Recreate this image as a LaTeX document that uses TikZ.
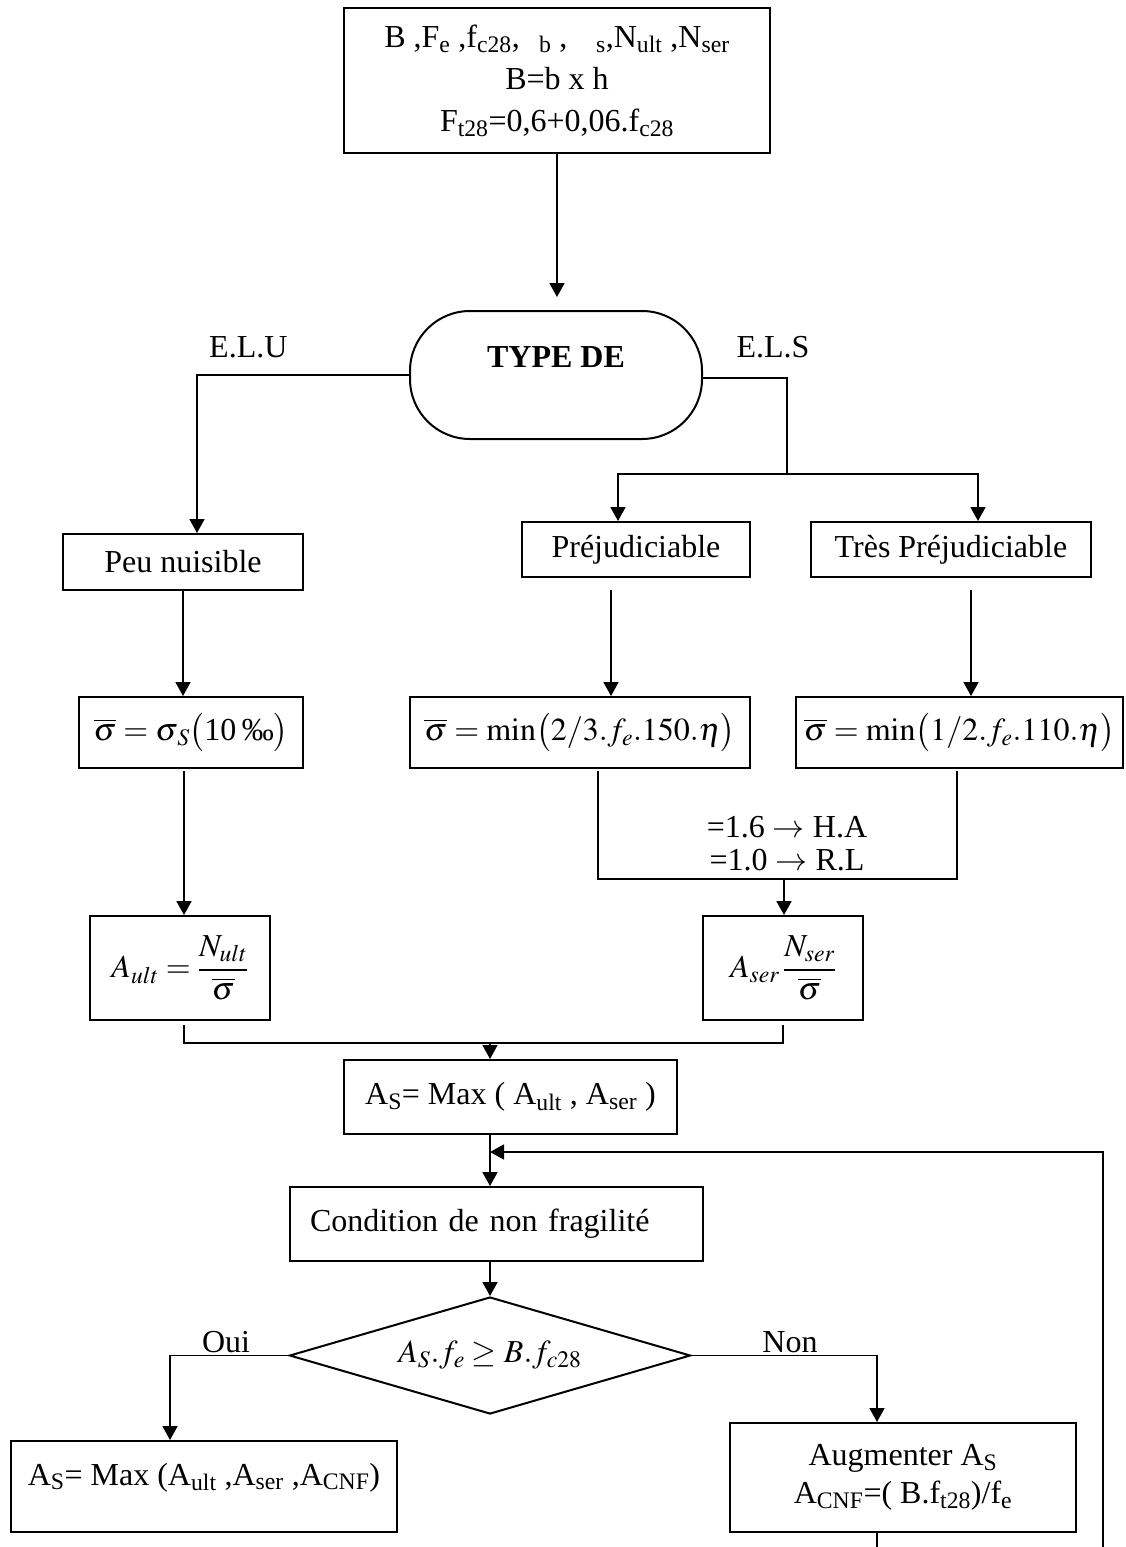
\documentclass[tikz,border=0pt]{standalone}
\usepackage{amsmath}
\usepackage{mathptmx}
\usepackage[no-math]{fontspec}
\setmainfont{Liberation Serif}
\usetikzlibrary{arrows.meta,shapes.geometric}
\tikzset{
  box/.style={draw, line width=2pt, inner sep=0pt, align=center},
  link/.style={line width=1.7pt},
  arr/.style={link, -{Triangle[length=14pt,width=15pt]}},
  tag/.style={inner sep=0pt},
}
\begin{document}
\begin{tikzpicture}[x=1pt,y=-1pt,font=\fontsize{32}{40}\selectfont]
  \useasboundingbox (0,0) rectangle (1125,1547);
  % boxes
  \node[box, minimum width=426pt, minimum height=145pt] (data) at (557,80.5)
    {B\ ,F\textsubscript{e}\ ,f\textsubscript{c28},\hspace{0.6em}\textsubscript{b}\ ,\hspace{0.9em}\textsubscript{s},N\textsubscript{ult}\ ,N\textsubscript{ser}\\[2pt]
     B=b x h\\[2pt]
     F\textsubscript{t28}=0,6+0,06.f\textsubscript{c28}};
  \node[box, rounded corners=60pt, minimum width=292pt, minimum height=128pt, text depth=36pt] (type) at (556,375) {\textbf{TYPE DE}};
  \node[tag, anchor=west] (elu) at (209,347) {E.L.U};
  \node[tag] (els) at (773,347) {E.L.S};
  \node[box, minimum width=240pt, minimum height=56pt] (peu) at (183,562) {Peu nuisible};
  \node[box, minimum width=228pt, minimum height=55pt] (prej) at (636,549.5) {Préjudiciable};
  \node[box, minimum width=280pt, minimum height=55pt] (tres) at (951,549.5) {Très Préjudiciable};
  \node[box, minimum width=224pt, minimum height=71pt] (sig1) at (191,732.5) {$\overline{\sigma}=\sigma_{\,S}\bigl(\text{10\,‰}\bigr)$};
  \node[box, minimum width=340pt, minimum height=71pt] (sig2) at (580,732.5) {$\overline{\sigma}=\min\bigl(2/3.f_e.150.\eta\bigr)$};
  \node[box, minimum width=327pt, minimum height=71pt] (sig3) at (959.5,732.5) {$\overline{\sigma}=\min\bigl(1/2.f_e.110.\eta\bigr)$};
  \node[tag] (ha) at (787,827) {=1.6 $\rightarrow$ H.A};
  \node[tag] (rl) at (787,860) {=1.0 $\rightarrow$ R.L};
  \node[box, minimum width=180pt, minimum height=104pt] (ault) at (180,968) {$A_{ult}=\dfrac{N_{ult}}{\overline{\sigma}}$};
  \node[box, minimum width=160pt, minimum height=104pt] (aser) at (783,968) {$A_{ser}\,\dfrac{N_{ser}}{\overline{\sigma}}$};
  \node[box, minimum width=333pt, minimum height=74pt] (asmax) at (510.5,1097) {A\textsubscript{S}= Max ( A\textsubscript{ult} , A\textsubscript{ser} )};
  \node[box, minimum width=413pt, minimum height=74pt, text width=373pt, align=left, inner xsep=20pt] (cnf) at (496.5,1224) {Condition de non fragilité};
  \node[box, diamond, aspect=3.4, minimum width=401pt, minimum height=117pt] (test) at (490,1355.5) {$A_S.f_e\geq B.f_{c28}$};
  \node[box, minimum width=386pt, minimum height=91pt, text depth=25pt] (asfin) at (204,1486.5) {A\textsubscript{S}= Max (A\textsubscript{ult} ,A\textsubscript{ser} ,A\textsubscript{CNF})};
  \node[box, minimum width=346pt, minimum height=109pt] (aug) at (903,1477.5) {Augmenter A\textsubscript{S}\\[-2pt] A\textsubscript{CNF}=( B.f\textsubscript{t28})/f\textsubscript{e}};
  \node[tag, anchor=base] (oui) at (226,1352) {Oui};
  \node[tag, anchor=base] (non) at (790,1352) {Non};
  % connectors
  \coordinate (split) at (787,474);
  \coordinate (merge) at (784,879);
  \coordinate (join) at (490,1043);
  \coordinate (loopin) at (490,1152);
  \coordinate (loopend) at (1103,1547);
  \coordinate (augend) at (877,1547);
  \draw[arr, shorten >=13pt] (data.south) -- (data.south |- type.north);
  \draw[arr] (type.west) -| ([xshift=14pt]peu.north);
  \draw[link] ([yshift=-3pt]type.east) -| (split);
  \draw[arr] (split) -| ([xshift=-18pt]prej.north);
  \draw[arr] (split) -| ([xshift=27pt]tres.north);
  \draw[arr] (peu.south) -- (peu.south |- sig1.north);
  \draw[arr, shorten <=12pt] ([xshift=-25pt]prej.south) -- ([xshift=-25pt]prej.south |- sig2.north);
  \draw[arr, shorten <=12pt] ([xshift=20pt]tres.south) -- ([xshift=20pt]tres.south |- sig3.north);
  \draw[arr, shorten <=2pt] ([xshift=-7pt]sig1.south) -- ([xshift=-7pt]sig1.south |- ault.north);
  \draw[link, shorten <=2pt, shorten >=2pt] ([xshift=18pt]sig2.south) |- (merge) -| ([xshift=-2.5pt]sig3.south);
  \draw[arr] (merge) -- (merge |- aser.north);
  \draw[link, shorten <=4pt, shorten >=4pt] ([xshift=4pt]ault.south) |- (join) -| (aser.south);
  \draw[arr] (join) -- (join |- asmax.north);
  \draw[arr] (join |- asmax.south) -- (join |- cnf.north);
  \draw[arr] (loopend) |- (loopin);
  \draw[arr] (join |- cnf.south) -- (test.north);
  \draw[arr] (test.west) -| ([xshift=-34pt]asfin.north);
  \draw[arr] (test.east) -| ([xshift=-26pt]aug.north);
  \draw[link] ([xshift=-26pt]aug.south) -- (augend);
\end{tikzpicture}
\end{document}
